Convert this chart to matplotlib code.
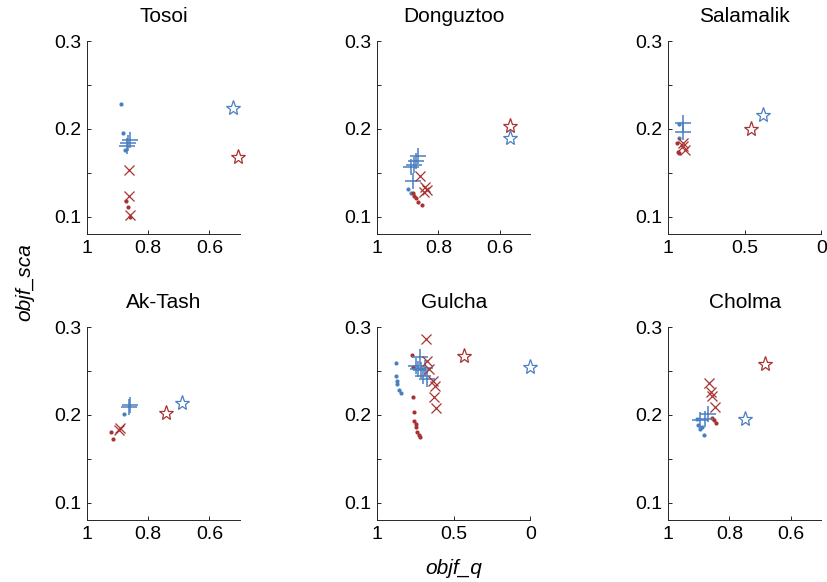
import matplotlib.pyplot as plt
import numpy as np

plt.rcParams['font.family'] = ['Liberation Sans', 'DejaVu Sans']

BLUE = '#4a7fc1'
RED = '#a83232'

# data per site
sites = ['Tosoi', 'Donguztoo', 'Salamalik', 'Ak-Tash', 'Gulcha', 'Cholma']

blue_dots_x = [[0.888, 0.883, 0.877],
               [0.898, 0.890],
               [0.929, 0.927],
               [0.880],
               [0.880, 0.880, 0.874, 0.868, 0.857, 0.848],
               [0.907, 0.902, 0.896, 0.890, 0.882]]
blue_dots_y = [[0.228, 0.195, 0.176],
               [0.131, 0.127],
               [0.206, 0.190],
               [0.2006],
               [0.259, 0.245, 0.239, 0.2355, 0.229, 0.225],
               [0.1957, 0.188, 0.1843, 0.186, 0.1767]]

red_dots_x = [[0.871, 0.866, 0.858],
              [0.884, 0.880, 0.873, 0.866, 0.854],
              [0.941, 0.935, 0.929],
              [0.921, 0.916],
              [0.776, 0.765, 0.765, 0.761, 0.758, 0.748, 0.744, 0.738, 0.728, 0.718],
              [0.858, 0.852, 0.844]]
red_dots_y = [[0.118, 0.111, 0.100],
              [0.127, 0.123, 0.121, 0.117, 0.113],
              [0.184, 0.174, 0.172],
              [0.180, 0.173],
              [0.2686, 0.2545, 0.221, 0.2032, 0.193, 0.190, 0.186, 0.180, 0.1767, 0.1747],
              [0.197, 0.1945, 0.1907]]

blue_plus_x = [[0.860, 0.865, 0.869],
               [0.866, 0.873, 0.880, 0.890, 0.884],
               [0.901, 0.901],
               [0.860, 0.864],
               [0.722, 0.748, 0.733, 0.711, 0.689, 0.700, 0.678],
               [0.896, 0.880, 0.869]]
blue_plus_y = [[0.187, 0.184, 0.180],
               [0.169, 0.163, 0.159, 0.156, 0.140],
               [0.207, 0.196],
               [0.211, 0.209],
               [0.266, 0.256, 0.253, 0.251, 0.254, 0.245, 0.241],
               [0.1945, 0.1957, 0.2006]]

red_x_x = [[0.863, 0.863, 0.860],
           [0.862, 0.844, 0.838, 0.847],
           [0.901, 0.890, 0.905],
           [0.891, 0.896],
           [0.683, 0.674, 0.661, 0.635, 0.624, 0.628, 0.619],
           [0.8666, 0.860, 0.858, 0.847]]
red_x_y = [[0.153, 0.123, 0.102],
           [0.146, 0.134, 0.130, 0.128],
           [0.184, 0.176, 0.180],
           [0.185, 0.183],
           [0.2868, 0.262, 0.2526, 0.239, 0.2336, 0.220, 0.208],
           [0.2367, 0.226, 0.222, 0.209]]

blue_star_x = [0.522, 0.565, 0.383, 0.689, 0.005, 0.749]
blue_star_y = [0.224, 0.190, 0.216, 0.214, 0.2544, 0.1949]
red_star_x = [0.505, 0.565, 0.460, 0.743, 0.435, 0.685]
red_star_y = [0.168, 0.203, 0.200, 0.2025, 0.2678, 0.2583]

xlims = [(1, 0.5), (1, 0.5), (1, 0), (1, 0.5), (1, 0), (1, 0.5)]
xticks = [[1, 0.8, 0.6], [1, 0.8, 0.6], [1, 0.5, 0], [1, 0.8, 0.6], [1, 0.5, 0], [1, 0.8, 0.6]]
xticklabels = [['1', '0.8', '0.6'], ['1', '0.8', '0.6'], ['1', '0.5', '0'],
               ['1', '0.8', '0.6'], ['1', '0.5', '0'], ['1', '0.8', '0.6']]

fig = plt.figure(figsize=(8.27, 5.82), dpi=100)

lefts = [0.1052, 0.4562, 0.8081]
bottoms = [0.5979, 0.1065]
w, h = 0.185, 0.331

for i, name in enumerate(sites):
    ax = fig.add_axes([lefts[i % 3], bottoms[i // 3], w, h])
    ax.plot(blue_dots_x[i], blue_dots_y[i], 'o', color=BLUE, ms=3, mec='none', clip_on=False)
    ax.plot(red_dots_x[i], red_dots_y[i], 'o', color=RED, ms=3, mec='none', clip_on=False)
    ax.plot(blue_plus_x[i], blue_plus_y[i], '+', color=BLUE, ms=11, mew=1.1, clip_on=False)
    ax.plot(red_x_x[i], red_x_y[i], 'x', color=RED, ms=7.5, mew=0.9, clip_on=False)
    ax.plot(blue_star_x[i], blue_star_y[i], '*', color=BLUE, mfc='none', ms=11, mew=0.9,
            clip_on=False)
    ax.plot(red_star_x[i], red_star_y[i], '*', color=RED, mfc='none', ms=11, mew=0.9,
            clip_on=False)

    ax.set_xlim(xlims[i])
    ax.set_ylim(0.08, 0.3)
    ax.set_xticks(xticks[i])
    ax.set_xticklabels(xticklabels[i])
    ax.set_yticks([0.1, 0.15, 0.2, 0.25, 0.3])
    ax.set_yticklabels(['0.1', '', '0.2', '', '0.3'])
    ax.tick_params(direction='in', length=3, width=0.7, labelsize=14, pad=4, color='#262626')
    for s in ['top', 'right']:
        ax.spines[s].set_visible(False)
    for s in ['left', 'bottom']:
        ax.spines[s].set_linewidth(0.7)
        ax.spines[s].set_color('#262626')
    ax.set_title(name, fontsize=15, pad=14)

fig.text(0.549, 0.024, 'objf_q', fontsize=15, style='italic', ha='center', va='center')
fig.text(0.030, 0.515, 'objf_sca', fontsize=15, style='italic', ha='center', va='center',
         rotation=90)

plt.savefig('out.png', dpi=100)
